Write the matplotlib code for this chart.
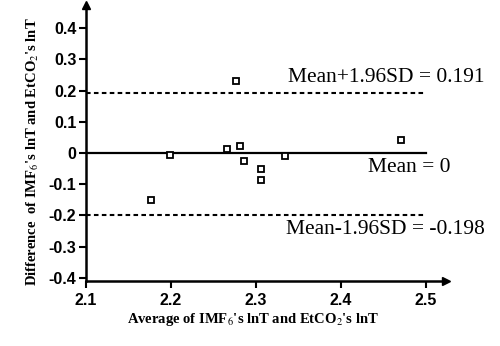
import matplotlib
matplotlib.use("Agg")
import matplotlib.pyplot as plt

plt.rcParams['font.family'] = ['Liberation Serif', 'DejaVu Serif']
plt.rcParams['mathtext.fontset'] = 'stix'

avg = [2.176, 2.199, 2.266, 2.276, 2.281, 2.286, 2.306, 2.306, 2.334, 2.471]
diff = [-0.150, -0.005, 0.013, 0.231, 0.022, -0.027, -0.050, -0.088, -0.010, 0.042]
mean_val = 0.0
upper = 0.191
lower = -0.198
xticks = [2.1, 2.2, 2.3, 2.4, 2.5]
yticks = [-0.4, -0.3, -0.2, -0.1, 0, 0.1, 0.2, 0.3, 0.4]
ytick_labels = ['-0.4', '-0.3', '-0.2', '-0.1', '0', '0.1', '0.2', '0.3', '0.4']

fig = plt.figure(figsize=(5.0, 3.46), dpi=100)
ax = fig.add_axes([0.172, 0.188, 0.72, 0.7975])
xlim = (2.1, 2.5235)
ylim = (-0.41, 0.474)
ax.set_xlim(*xlim)
ax.set_ylim(*ylim)

ax.plot([2.1, 2.5], [mean_val, mean_val], color='black', lw=1.6)
ax.plot([2.1, 2.5], [upper, upper], color='black', lw=1.5, ls=(0, (2.2, 1.6)))
ax.plot([2.1, 2.5], [lower, lower], color='black', lw=1.5, ls=(0, (2.2, 1.6)))
ax.plot(avg, diff, ls='none', marker='s', ms=4.3, mfc='white', mec='black', mew=1.3, zorder=5)

ax.text(2.569, 0.242, 'Mean+1.96SD = 0.191', ha='right', va='center', fontsize=15.5, clip_on=False)
ax.text(2.529, -0.047, 'Mean = 0', ha='right', va='center', fontsize=15.5, clip_on=False)
ax.text(2.569, -0.246, 'Mean-1.96SD = -0.198', ha='right', va='center', fontsize=15.5, clip_on=False)

for s in ['top', 'right']:
    ax.spines[s].set_visible(False)
for s in ['left', 'bottom']:
    ax.spines[s].set_linewidth(1.8)

ax.set_xticks(xticks)
ax.set_xticklabels([f'{v:.1f}' for v in xticks])
ax.set_yticks(yticks)
ax.set_yticklabels(ytick_labels)
ax.tick_params(axis='both', direction='out', length=5, width=1.5, labelsize=11.5)
ax.tick_params(axis='y', pad=2)
for lab in ax.get_xticklabels() + ax.get_yticklabels():
    lab.set_fontweight('bold')
    lab.set_family(['Liberation Sans', 'DejaVu Sans'])

# arrows
ax.plot([xlim[1]], [ylim[0]], marker='>', color='black', ms=6, clip_on=False)
ax.plot([xlim[0]], [ylim[1]], marker='^', color='black', ms=6, clip_on=False)

ax.set_xlabel("Average of IMF$_6$'s lnT and EtCO$_2$'s lnT", fontsize=10.5, fontweight='bold')
ax.set_ylabel("Difference  of IMF$_6$'s lnT and EtCO$_2$'s lnT", fontsize=10.5, fontweight='bold')
ax.xaxis.set_label_coords(0.464, -0.141)
ax.xaxis.label.set_va('center')
ax.yaxis.set_label_coords(-0.147, 0.467)
ax.yaxis.label.set_va('center')

fig.savefig('out.png', dpi=100)
